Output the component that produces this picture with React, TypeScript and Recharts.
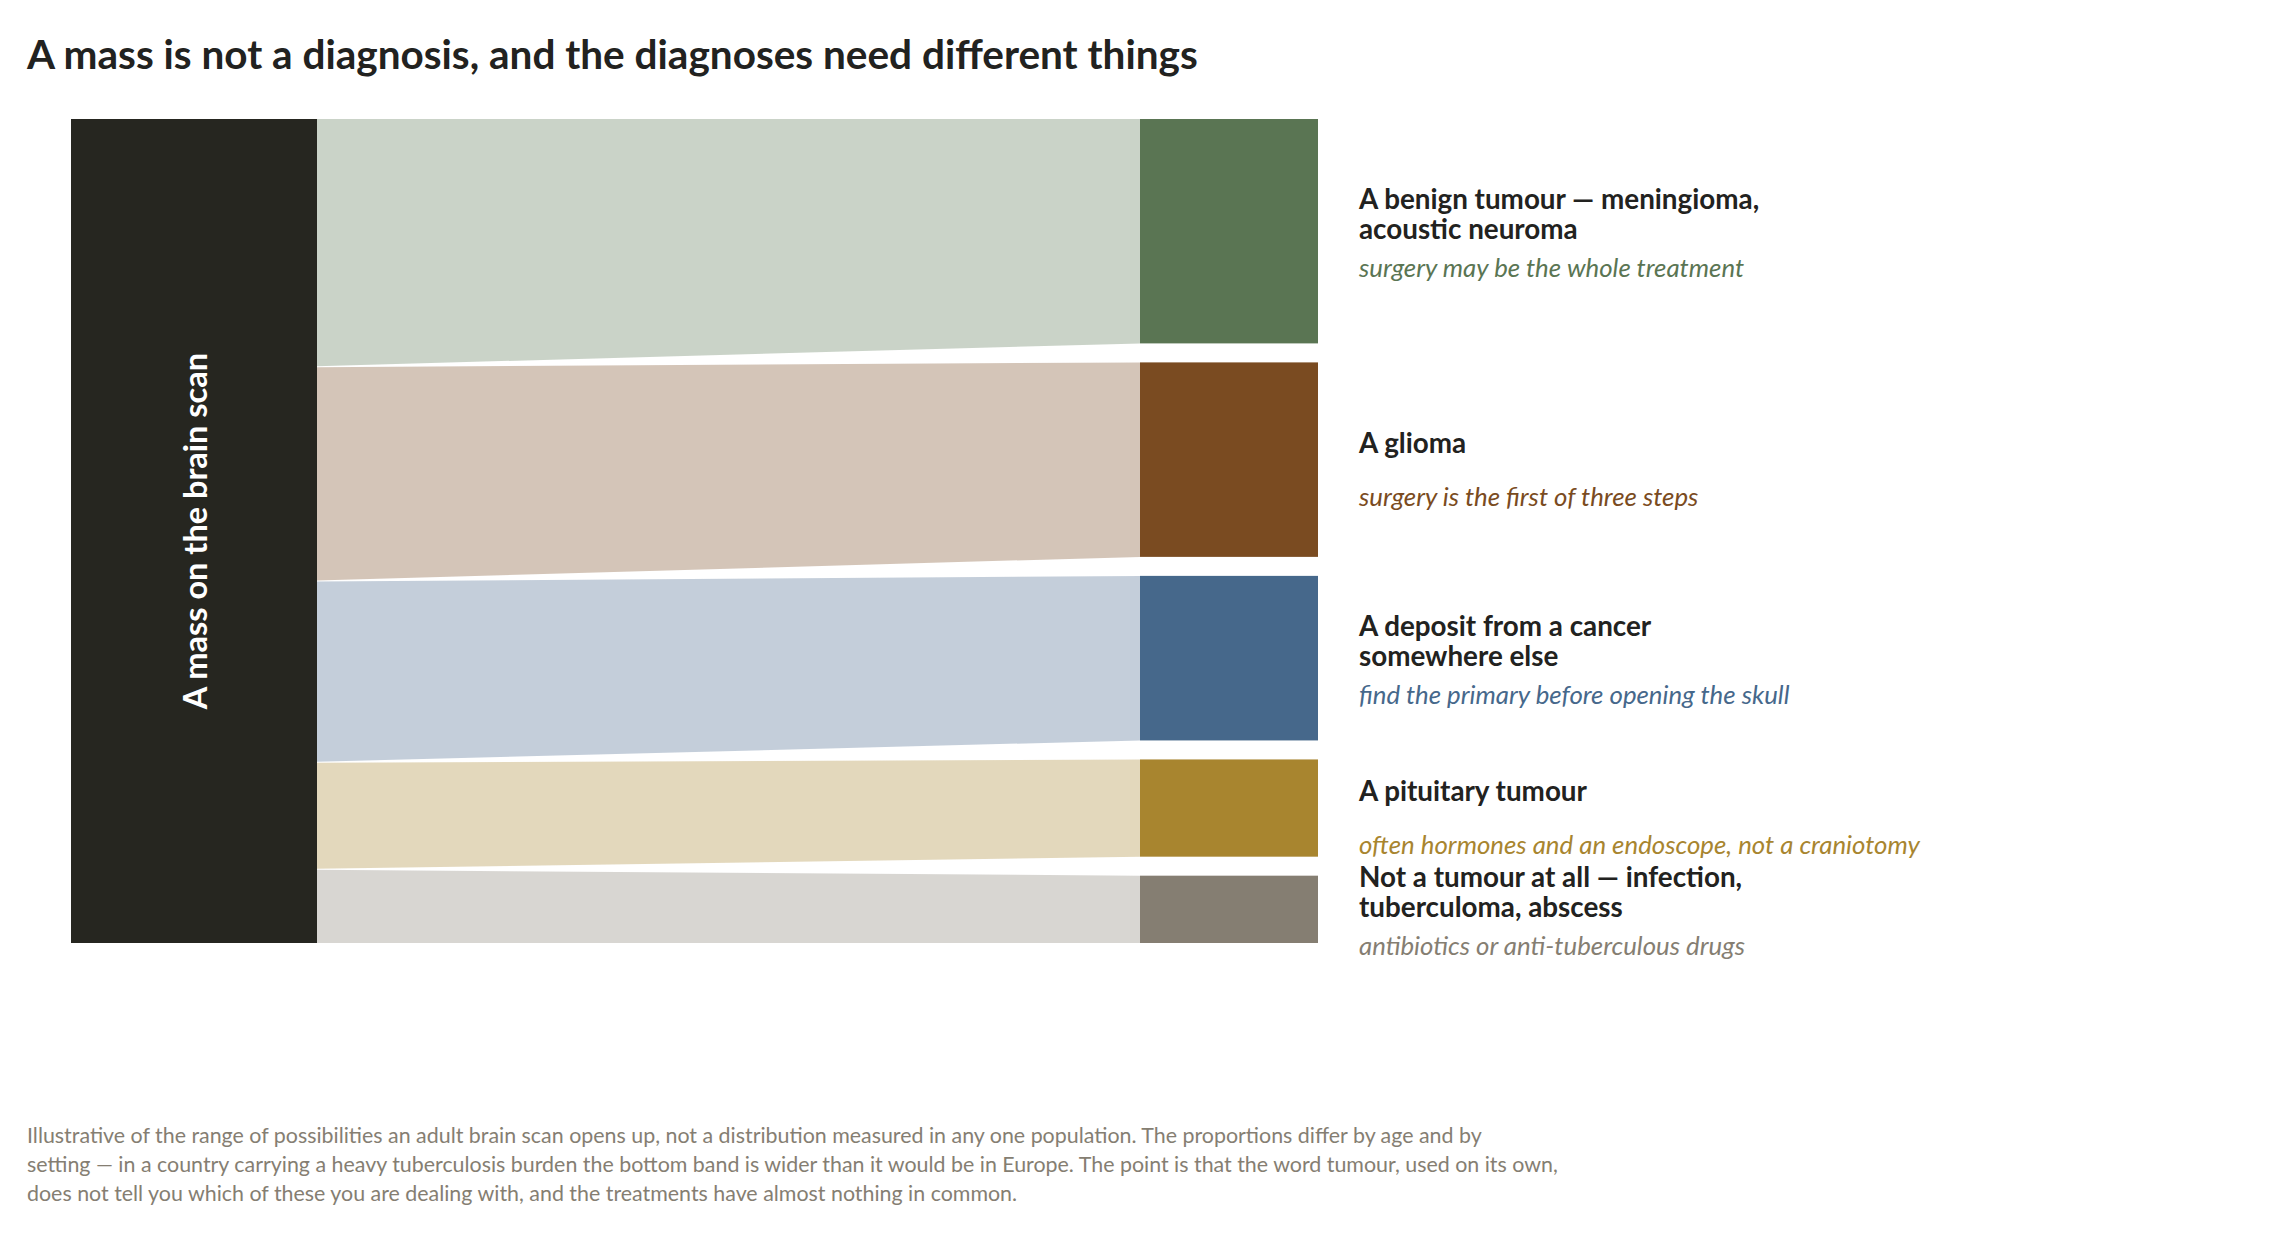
import React from "react";
import { Sankey } from "recharts";

// --- data -------------------------------------------------------------
const SOURCE_NAME = "A mass on the brain scan";
const CATEGORIES = ["benign", "glioma", "deposit", "pituitary", "not-tumour"];
const SHARES = [30, 26, 22, 13, 9];
const LABELS = [
    ["A benign tumour — meningioma,", "acoustic neuroma"],
    ["A glioma"],
    ["A deposit from a cancer", "somewhere else"],
    ["A pituitary tumour"],
    ["Not a tumour at all — infection,", "tuberculoma, abscess"],
];
const NOTES = [
    "surgery may be the whole treatment",
    "surgery is the first of three steps",
    "find the primary before opening the skull",
    "often hormones and an endoscope, not a craniotomy",
    "antibiotics or anti-tuberculous drugs",
];
const TITLE = "A mass is not a diagnosis, and the diagnoses need different things";
const FOOTNOTE = [
    "Illustrative of the range of possibilities an adult brain scan opens up, not a distribution measured in any one population. The proportions differ by age and by",
    "setting — in a country carrying a heavy tuberculosis burden the bottom band is wider than it would be in Europe. The point is that the word tumour, used on its own,",
    "does not tell you which of these you are dealing with, and the treatments have almost nothing in common.",
];

// --- styles / layout --------------------------------------------------
const COLORS = ["#5a7553", "#7a4b21", "#46688b", "#a8852f", "#857e72"];
const SOURCE_COLOR = "#262620";
const TEXT_DARK = "#222220";
const FONT = "Lato, 'Noto Sans', sans-serif";

const W = 2280;
const H = 1000;
const MARGIN = { top: 119, left: 139, right: 962, bottom: 57 };
const INNER_H = H - MARGIN.top - MARGIN.bottom;
const SOURCE_LEFT = 71;
const NODE_W = 178;
const NODE_PAD = 19;

const TOTAL = SHARES.reduce((a, b) => a + b, 0);
const CUM = SHARES.map((_, i) => SHARES.slice(0, i).reduce((a, b) => a + b, 0));

const sankeyData = {
    nodes: [{ name: SOURCE_NAME }, ...CATEGORIES.map((c) => ({ name: c }))],
    links: CATEGORIES.map((_, i) => ({ source: 0, target: i + 1, value: SHARES[i] })),
};

const SankeyNode = (props: any) => {
    const { x, y, width, height, index } = props;
    if (index === 0) {
        const w = x + width - SOURCE_LEFT;
        const cx = SOURCE_LEFT + w / 2;
        const cy = MARGIN.top + INNER_H / 2;
        return (
            <g>
                <rect x={SOURCE_LEFT} y={MARGIN.top} width={w} height={INNER_H} fill={SOURCE_COLOR} />
                <text
                    x={cx}
                    y={cy}
                    transform={`rotate(-90 ${cx} ${cy})`}
                    textAnchor="middle"
                    dominantBaseline="central"
                    fill="#ffffff"
                    fontFamily={FONT}
                    fontWeight={700}
                    fontSize={32.5}
                >
                    {SOURCE_NAME}
                </text>
            </g>
        );
    }
    const i = index - 1;
    const cy = y + height / 2;
    const lines = LABELS[i];
    const tx = x + width + 41;
    return (
        <g>
            <rect x={x} y={y} width={width} height={height} fill={COLORS[i]} />
            {lines.map((line, k) => (
                <text
                    key={k}
                    x={tx}
                    y={cy - 7 + (k - (lines.length - 1) / 2) * 30}
                    fill={TEXT_DARK}
                    fontFamily={FONT}
                    fontWeight={700}
                    fontSize={27.8}
                >
                    {line}
                </text>
            ))}
            <text x={tx} y={cy + 46} fill={COLORS[i]} fontFamily={FONT} fontStyle="italic" fontSize={25.8}>
                {NOTES[i]}
            </text>
        </g>
    );
};

const SankeyLink = (props: any) => {
    const { sourceX, targetX, targetY, linkWidth, payload } = props;
    const i = CATEGORIES.indexOf(payload.target.name);
    const scale = INNER_H / TOTAL;
    const y0 = MARGIN.top + CUM[i] * scale + (i > 0 ? 1 : 0);
    const y1 = MARGIN.top + (CUM[i] + SHARES[i]) * scale;
    const t0 = targetY - linkWidth / 2;
    const t1 = targetY + linkWidth / 2;
    const d = `M${sourceX},${y0} L${targetX},${t0} L${targetX},${t1} L${sourceX},${y1} Z`;
    return <path d={d} fill={COLORS[i]} fillOpacity={0.32} stroke="none" />;
};

export default function App() {
    return (
        <div style={{ position: "absolute", left: 0, top: 0, width: W, height: 1240, background: "#fff" }}>
            <svg width={W} height={1240} style={{ position: "absolute", left: 0, top: 0 }}>
                <text x={27} y={69} fill={TEXT_DARK} fontFamily={FONT} fontWeight={700} fontSize={40.5}>
                    {TITLE}
                </text>
                {FOOTNOTE.map((line, k) => (
                    <text key={k} x={27} y={1143 + k * 29} fill="#857e72" fontFamily={FONT} fontSize={21.4}>
                        {line}
                    </text>
                ))}
            </svg>
            <div style={{ position: "absolute", left: 0, top: 0 }}>
                <Sankey
                    width={W}
                    height={H}
                    data={sankeyData}
                    margin={MARGIN}
                    nodeWidth={NODE_W}
                    nodePadding={NODE_PAD}
                    sort={false}
                    node={<SankeyNode />}
                    link={<SankeyLink />}
                />
            </div>
        </div>
    );
}
